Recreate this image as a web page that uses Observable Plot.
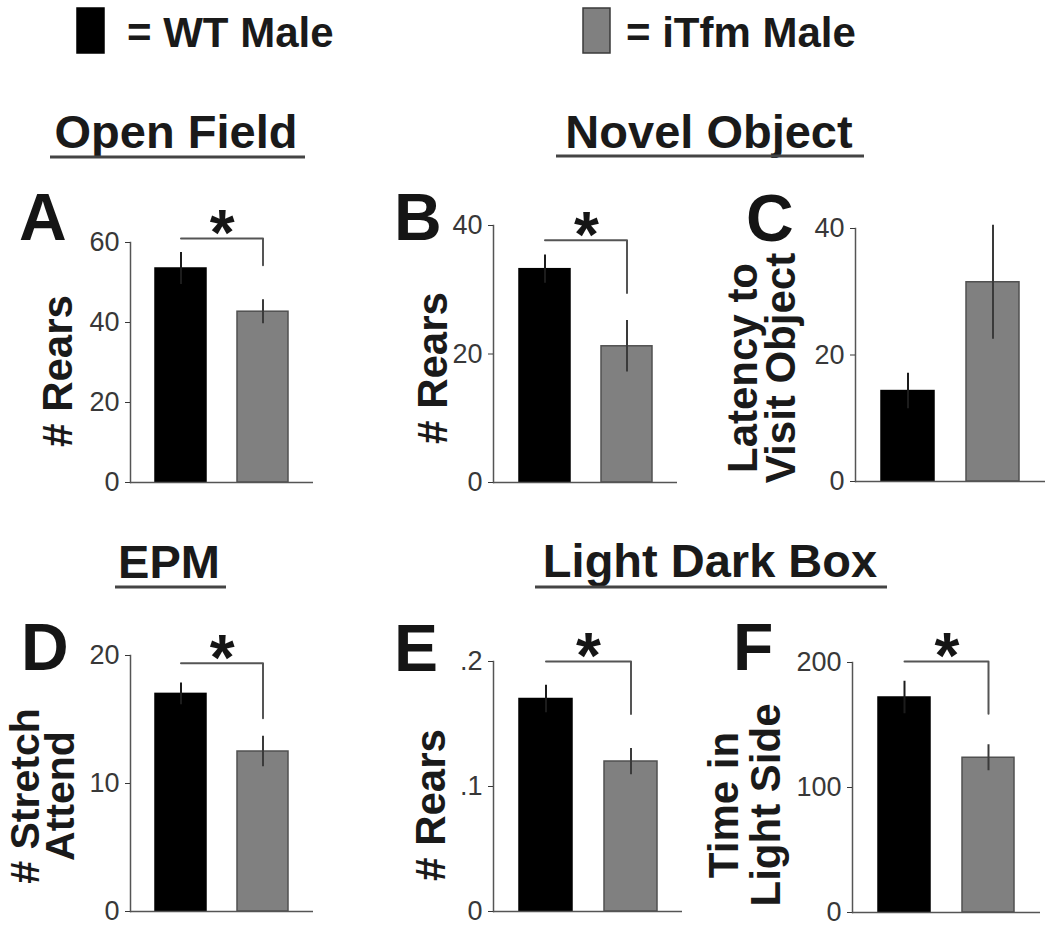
<!DOCTYPE html>
<html>
<head>
<meta charset="utf-8">
<script src="https://cdn.jsdelivr.net/npm/d3@7"></script>
<script src="https://cdn.jsdelivr.net/npm/@observablehq/plot@0.6"></script>
<style>
  body { margin: 0; background: #fff; }
  #fig { position: relative; width: 1050px; height: 931px; overflow: hidden; background: #fff;
         font-family: "Liberation Sans", Arial, sans-serif; }
  #fig svg { position: absolute; }
  #fig g[aria-label="y-axis tick label"], #fig g[aria-label="y-axis tick label"] text { font-size: 27px !important; }
</style>
</head>
<body>
<div id="fig"></div>
<script>
// ---------- data ----------
const groups = ["WT Male", "iTfm Male"];

const openFieldRears = [53.5, 42.7];
const openFieldRearsSE = [4.0, 3.0];
const novelObjectRears = [33.2, 21.2];
const novelObjectRearsSE = [2.2, 4.0];
const novelObjectLatency = [14.3, 31.5];
const novelObjectLatencySE = [2.8, 9.0];
const epmStretchAttend = [17.0, 12.5];
const epmStretchAttendSE = [0.85, 1.2];
const ldbRears = [0.170, 0.120];
const ldbRearsSE = [0.011, 0.0105];
const ldbTimeLight = [172, 123.8];
const ldbTimeLightSE = [13, 10.4];

const ticksA = [0, 20, 40, 60];
const ticksB = [0, 20, 40];
const ticksC = [0, 20, 40];
const ticksD = [0, 10, 20];
const ticksE = [0, 0.1, 0.2];
const ticksF = [0, 100, 200];

// significance brackets: [bracket level, right-leg end] in data units (null = none)
const sigA = [61, 54.3];
const sigB = [37.7, 29.5];
const sigD = [19.4, 15.1];
const sigE = [0.2, 0.158];
const sigF = [200.8, 159];

const panelLetters = ["A", "B", "C", "D", "E", "F"];
const sectionTitles = ["Open Field", "Novel Object", "EPM", "Light Dark Box"];
const yLabels = [["# Rears"], ["# Rears"], ["Latency to", "Visit Object"], ["# Stretch", "Attend"], ["# Rears"], ["Time in", "Light Side"]];

// ---------- layout ----------
const FONT = '"Liberation Sans", Arial, sans-serif';
const fig = document.getElementById("fig");
const PAD_IN = 0.38, PAD_OUT = 0.3;
const fmtPlain = d => String(d);
const fmtDot = d => d === 0 ? "0" : d3.format(".1f")(d).replace(/^0\./, ".");

const panels = [
  {means: openFieldRears, ses: openFieldRearsSE, top: 60, ticks: ticksA, fmt: fmtPlain, sig: sigA,
   axisX: 130, y0: 482, yTop: 242, xEnd: 313},
  {means: novelObjectRears, ses: novelObjectRearsSE, top: 40, ticks: ticksB, fmt: fmtPlain, sig: sigB,
   axisX: 493, y0: 482, yTop: 225, xEnd: 677},
  {means: novelObjectLatency, ses: novelObjectLatencySE, top: 40, ticks: ticksC, fmt: fmtPlain, sig: null,
   axisX: 855, y0: 481, yTop: 228, xEnd: 1045},
  {means: epmStretchAttend, ses: epmStretchAttendSE, top: 20, ticks: ticksD, fmt: fmtPlain, sig: sigD,
   axisX: 130, y0: 911, yTop: 655, xEnd: 313},
  {means: ldbRears, ses: ldbRearsSE, top: 0.2, ticks: ticksE, fmt: fmtDot, sig: sigE,
   axisX: 493, y0: 911, yTop: 661, xEnd: 682},
  {means: ldbTimeLight, ses: ldbTimeLightSE, top: 200, ticks: ticksF, fmt: fmtPlain, sig: sigF,
   axisX: 852, y0: 912, yTop: 662, xEnd: 1040}
];

function drawPanel(p) {
  const ML = 70, MT = 60, MR = 8, MB = 14;
  const L = p.axisX - ML, T = p.yTop - MT;
  const W = p.xEnd - L + MR, H = p.y0 - T + MB;
  const rows = groups.map((g, i) => ({group: g, mean: p.means[i], se: p.ses[i]}));
  const step = (p.xEnd - p.axisX) / (2 - PAD_IN + 2 * PAD_OUT);
  const marks = [
    Plot.barY(rows, {x: "group", y: "mean", fill: "group",
      stroke: d => d.group === groups[0] ? "#000" : "#505050", strokeWidth: 1.5}),
    Plot.ruleX(rows, {x: "group", y1: d => d.mean - d.se, y2: d => d.mean + d.se,
      stroke: d => d.group === groups[0] ? "#1c1c1c" : "#3a3a3a", strokeWidth: 2}),
    Plot.ruleY([0], {stroke: "#555", strokeWidth: 1.5}),
    Plot.frame({anchor: "left", stroke: "#555", strokeWidth: 1.5}),
    Plot.axisY({ticks: p.ticks, tickFormat: p.fmt, tickSize: 5, tickPadding: 6,
      color: "#383838", fontSize: 27, label: null})
  ];
  if (p.sig) {
    const [lvl, leg] = p.sig;
    marks.push(Plot.line(
      [{g: groups[0], v: lvl}, {g: groups[1], v: lvl}, {g: groups[1], v: leg}],
      {x: "g", y: "v", stroke: "#555", strokeWidth: 2}));
    marks.push(Plot.text([{g: groups[0], v: lvl}],
      {x: "g", y: "v", text: () => "*", dx: step / 2, dy: -4,
       fontSize: 64, fontWeight: "bold", fill: "#151515"}));
  }
  const chart = Plot.plot({
    width: W, height: H,
    marginLeft: ML, marginTop: MT, marginRight: MR, marginBottom: MB,
    x: {domain: groups, paddingInner: PAD_IN, paddingOuter: PAD_OUT, axis: null},
    y: {domain: [0, p.top], axis: null},
    color: {domain: groups, range: ["#000000", "#808080"]},
    style: {fontFamily: FONT, fontSize: "27px", background: "transparent", overflow: "visible"},
    marks
  });
  chart.style.left = L + "px";
  chart.style.top = T + "px";
  fig.appendChild(chart);
}
panels.forEach(drawPanel);

// ---------- text overlay: legend, section titles, panel letters, axis titles ----------
const svg = d3.select(fig).append("svg")
  .attr("width", 1050).attr("height", 931)
  .style("left", "0px").style("top", "0px")
  .attr("font-family", FONT);

// legend
const legendPos = [{x: 77, tx: 127}, {x: 583, tx: 626}];
const legendFill = ["#000000", "#808080"];
groups.forEach((g, i) => {
  svg.append("rect").attr("x", legendPos[i].x).attr("y", 8).attr("width", 27).attr("height", 45)
    .attr("fill", legendFill[i]).attr("stroke", i ? "#3a3a3a" : "#000").attr("stroke-width", 1.5);
  svg.append("text").attr("x", legendPos[i].tx).attr("y", 47)
    .attr("font-size", 42).attr("font-weight", "bold").attr("fill", "#1a1a1a")
    .text("= " + g);
});

// section titles with underlines
const titlePos = [
  {cx: 176, base: 148, u1: 50, u2: 305, uy: 157},
  {cx: 709, base: 148, u1: 556, u2: 864, uy: 156},
  {cx: 169, base: 578, u1: 115, u2: 226, uy: 587},
  {cx: 710, base: 577, u1: 535, u2: 887, uy: 587}
];
sectionTitles.forEach((t, i) => {
  const p = titlePos[i];
  svg.append("text").attr("x", p.cx).attr("y", p.base).attr("text-anchor", "middle")
    .attr("font-size", 47).attr("font-weight", "bold").attr("fill", "#1a1a1a").text(t);
  svg.append("line").attr("x1", p.u1).attr("x2", p.u2).attr("y1", p.uy).attr("y2", p.uy)
    .attr("stroke", "#444").attr("stroke-width", 3);
});

// panel letters
const letterPos = [
  {x: 19, y: 240}, {x: 394, y: 240}, {x: 746, y: 241},
  {x: 21, y: 670}, {x: 394, y: 671}, {x: 733, y: 670}
];
panelLetters.forEach((l, i) => {
  svg.append("text").attr("x", letterPos[i].x).attr("y", letterPos[i].y)
    .attr("font-size", 66).attr("font-weight", "bold").attr("fill", "#151515").text(l);
});

// rotated y-axis titles: baselines (x) of each line and vertical centre
const yLabelPos = [
  {bases: [72], cy: 371, fs: 42},
  {bases: [447], cy: 368, fs: 42},
  {bases: [757, 795], cy: 368, fs: 42},
  {bases: [39, 74], cy: 796, fs: 41},
  {bases: [445], cy: 805, fs: 42},
  {bases: [738, 780], cy: 805, fs: 42}
];
yLabels.forEach((lines, i) => {
  const p = yLabelPos[i];
  lines.forEach((line, j) => {
    svg.append("text")
      .attr("transform", `translate(${p.bases[j]},${p.cy}) rotate(-90)`)
      .attr("text-anchor", "middle")
      .attr("font-size", p.fs).attr("font-weight", "bold").attr("fill", "#1a1a1a")
      .text(line);
  });
});
</script>
</body>
</html>
